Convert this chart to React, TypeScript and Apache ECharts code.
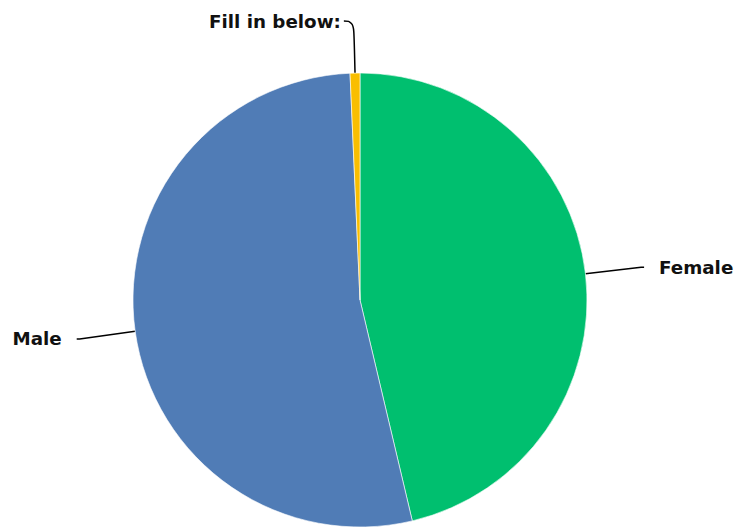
import React, { useEffect, useRef } from "react";
import * as echarts from "echarts";

const categories = ["Female", "Male", "Fill in below:"];
const values = [46.3, 53.0, 0.7];
const colors = ["#00BF6F", "#507CB6", "#F9BE00"];

export default function App() {
  const ref = useRef<HTMLDivElement>(null);
  useEffect(() => {
    document.body.style.margin = "0";
    const chart = echarts.init(ref.current!, null, { renderer: "svg" });
    chart.setOption({
      animation: false,
      backgroundColor: "#ffffff",
      series: [
        {
          type: "pie",
          center: [360, 300],
          radius: [0, 227],
          startAngle: 90,
          clockwise: true,
          avoidLabelOverlap: false,
          itemStyle: { borderColor: "#ffffff", borderWidth: 0.6 },
          label: {
            show: true,
            position: "outside",
            color: "#111111",
            fontFamily: "DejaVu Sans",
            fontWeight: "bold",
            fontSize: 18.3,
            distanceToLabelLine: 15,
          },
          labelLine: {
            show: true,
            length: 56,
            length2: 3,
            lineStyle: { color: "#000000", width: 1.5 },
          },
          data: categories.map((name, i) => ({
            name,
            value: values[i],
            itemStyle: { color: colors[i] },
            ...(i === 2
              ? {
                  labelLine: { length: 52, length2: 10, smooth: 0.5 },
                  label: { distanceToLabelLine: 3 },
                }
              : {}),
          })),
        },
      ],
    });
    return () => chart.dispose();
  }, []);
  return <div ref={ref} style={{ width: 737, height: 529 }} />;
}
